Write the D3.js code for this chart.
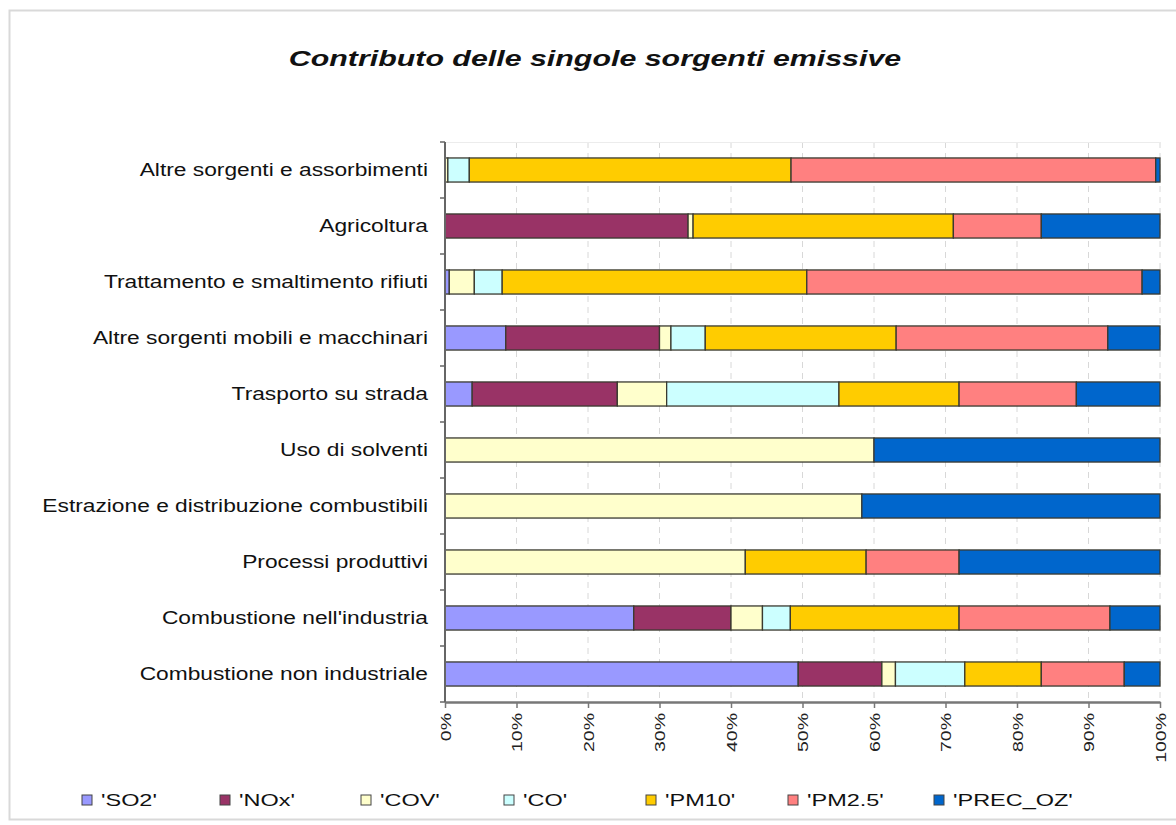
<!DOCTYPE html>
<html>
<head>
<meta charset="utf-8">
<script src="https://cdn.jsdelivr.net/npm/d3@7"></script>
<style>
  html, body { margin: 0; padding: 0; background: #ffffff; }
  svg { display: block; }
  text { font-family: "Liberation Sans", Arial, sans-serif; }
</style>
</head>
<body>
<svg id="chart" width="1176" height="825"></svg>
<script>
// Emission sources, listed top to bottom
const categories = [
  "Altre sorgenti e assorbimenti",
  "Agricoltura",
  "Trattamento e smaltimento rifiuti",
  "Altre sorgenti mobili e macchinari",
  "Trasporto su strada",
  "Uso di solventi",
  "Estrazione e distribuzione combustibili",
  "Processi produttivi",
  "Combustione nell'industria",
  "Combustione non industriale"
];

const seriesNames = ["'SO2'", "'NOx'", "'COV'", "'CO'", "'PM10'", "'PM2.5'", "'PREC_OZ'"];

// Share (%) of each pollutant for every source, same order as categories
const SO2     = [0.0, 0.0, 0.6, 8.5, 3.8, 0.0, 0.0, 0.0, 26.4, 49.4];
const NOx     = [0.0, 34.0, 0.0, 21.5, 20.3, 0.0, 0.0, 0.0, 13.6, 11.7];
const COV     = [0.4, 0.7, 3.5, 1.6, 6.9, 60.0, 58.3, 42.0, 4.4, 1.9];
const CO      = [3.0, 0.0, 3.9, 4.8, 24.1, 0.0, 0.0, 0.0, 3.9, 9.7];
const PM10    = [45.0, 36.4, 42.6, 26.7, 16.8, 0.0, 0.0, 16.9, 23.6, 10.7];
const PM25    = [51.0, 12.3, 46.9, 29.6, 16.4, 0.0, 0.0, 13.0, 21.1, 11.6];
const PREC_OZ = [0.6, 16.6, 2.5, 7.3, 11.7, 40.0, 41.7, 28.1, 7.0, 5.0];

const tickValues = [0, 10, 20, 30, 40, 50, 60, 70, 80, 90, 100];
const colors = ["#9999ff", "#993366", "#ffffcc", "#ccffff", "#ffcc00", "#ff8080", "#0066cc"];

const seriesValues = [SO2, NOx, COV, CO, PM10, PM25, PREC_OZ];
const rows = categories.map((c, i) => {
  const r = { category: c };
  seriesNames.forEach((s, k) => { r[s] = seriesValues[k][i]; });
  return r;
});

// widen text runs by a factor, keeping the glyphs' height
function widen(sel, k) {
  sel.each(function () {
    const w = this.getComputedTextLength();
    d3.select(this).attr("textLength", w * k).attr("lengthAdjust", "spacingAndGlyphs");
  });
}

const svg = d3.select("#chart");

// outer frame
svg.append("rect")
  .attr("x", 9.5).attr("y", 10.5)
  .attr("width", 1180).attr("height", 809)
  .attr("fill", "#ffffff")
  .attr("stroke", "#d9d9d9").attr("stroke-width", 2);

const margin = { left: 445, right: 16, top: 142, bottom: 123 };
const width = 1176 - margin.left - margin.right;   // 715
const height = 825 - margin.top - margin.bottom;   // 560

const g = svg.append("g").attr("transform", `translate(${margin.left},${margin.top})`);

const x = d3.scaleLinear().domain([0, 100]).range([0, width]);
const y = d3.scaleBand().domain(categories).range([0, height]).paddingInner(0.57).paddingOuter(0.285);

// title
svg.append("text")
  .attr("x", 595).attr("y", 66)
  .attr("text-anchor", "middle")
  .attr("font-size", 22)
  .attr("font-weight", "bold")
  .attr("font-style", "italic")
  .attr("fill", "#111")
  .text("Contributo delle singole sorgenti emissive")
  .call(widen, 1.38);

// vertical dashed gridlines
g.append("g")
  .selectAll("line")
  .data(tickValues.slice(1))
  .join("line")
  .attr("x1", d => x(d)).attr("x2", d => x(d))
  .attr("y1", 0).attr("y2", height)
  .attr("stroke", "#d8d8d8")
  .attr("stroke-width", 1)
  .attr("stroke-dasharray", "6,5");

// top boundary of the plot area
g.append("line")
  .attr("x1", 0).attr("x2", width).attr("y1", 0.5).attr("y2", 0.5)
  .attr("stroke", "#ececec");

// stacked bars
const stack = d3.stack().keys(seriesNames);
const layers = stack(rows);

g.append("g")
  .selectAll("g")
  .data(layers)
  .join("g")
  .attr("fill", (d, i) => colors[i])
  .selectAll("rect")
  .data(d => d.filter(p => p[1] - p[0] > 0))
  .join("rect")
  .attr("x", d => x(d[0]))
  .attr("y", d => y(d.data.category))
  .attr("width", d => x(d[1]) - x(d[0]))
  .attr("height", y.bandwidth())
  .attr("stroke", "#3a3a30")
  .attr("stroke-width", 1.3);

// category axis on the left
const yAxisG = g.append("g");
yAxisG.append("line")
  .attr("x1", 0).attr("x2", 0).attr("y1", 0).attr("y2", height)
  .attr("stroke", "#666").attr("stroke-width", 2);
const step = y.step();
yAxisG.selectAll("line.tick")
  .data(d3.range(categories.length + 1))
  .join("line")
  .attr("class", "tick")
  .attr("x1", -5).attr("x2", 0)
  .attr("y1", d => d * step).attr("y2", d => d * step)
  .attr("stroke", "#666").attr("stroke-width", 1.5);
yAxisG.selectAll("text")
  .data(categories)
  .join("text")
  .attr("x", -17)
  .attr("y", d => y(d) + y.bandwidth() / 2)
  .attr("dy", "0.35em")
  .attr("text-anchor", "end")
  .attr("font-size", 17.5)
  .attr("fill", "#111")
  .text(d => d)
  .call(widen, 1.3);

// percentage axis at the bottom
const xAxis = d3.axisBottom(x)
  .tickValues(tickValues)
  .tickFormat(d => d + "%")
  .tickSize(6)
  .tickSizeOuter(0);
const xAxisG = g.append("g")
  .attr("transform", `translate(0,${height})`)
  .call(xAxis);
xAxisG.select(".domain").attr("stroke", "#777").attr("stroke-width", 2.5);
xAxisG.selectAll(".tick line").attr("stroke", "#777").attr("stroke-width", 1.5);
xAxisG.selectAll(".tick text")
  .attr("font-size", 15)
  .attr("font-family", "'Liberation Sans', Arial, sans-serif")
  .attr("fill", "#222")
  .attr("transform", "rotate(-90)")
  .attr("text-anchor", "end")
  .attr("x", -11)
  .attr("y", 0)
  .attr("dy", "0.35em")
  .call(widen, 1.3);

// legend
const legendX = [87, 225, 366, 509, 651, 793, 939];
const legend = svg.append("g")
  .selectAll("g")
  .data(seriesNames)
  .join("g")
  .attr("transform", (d, i) => `translate(${legendX[i]},800)`);
legend.append("rect")
  .attr("x", -5).attr("y", -5)
  .attr("width", 10).attr("height", 10)
  .attr("fill", (d, i) => colors[i])
  .attr("stroke", "#444").attr("stroke-width", 1);
legend.append("text")
  .attr("x", 14).attr("y", 0)
  .attr("dy", "0.36em")
  .attr("font-size", 17)
  .attr("fill", "#111")
  .text(d => d)
  .call(widen, 1.38);
</script>
</body>
</html>
